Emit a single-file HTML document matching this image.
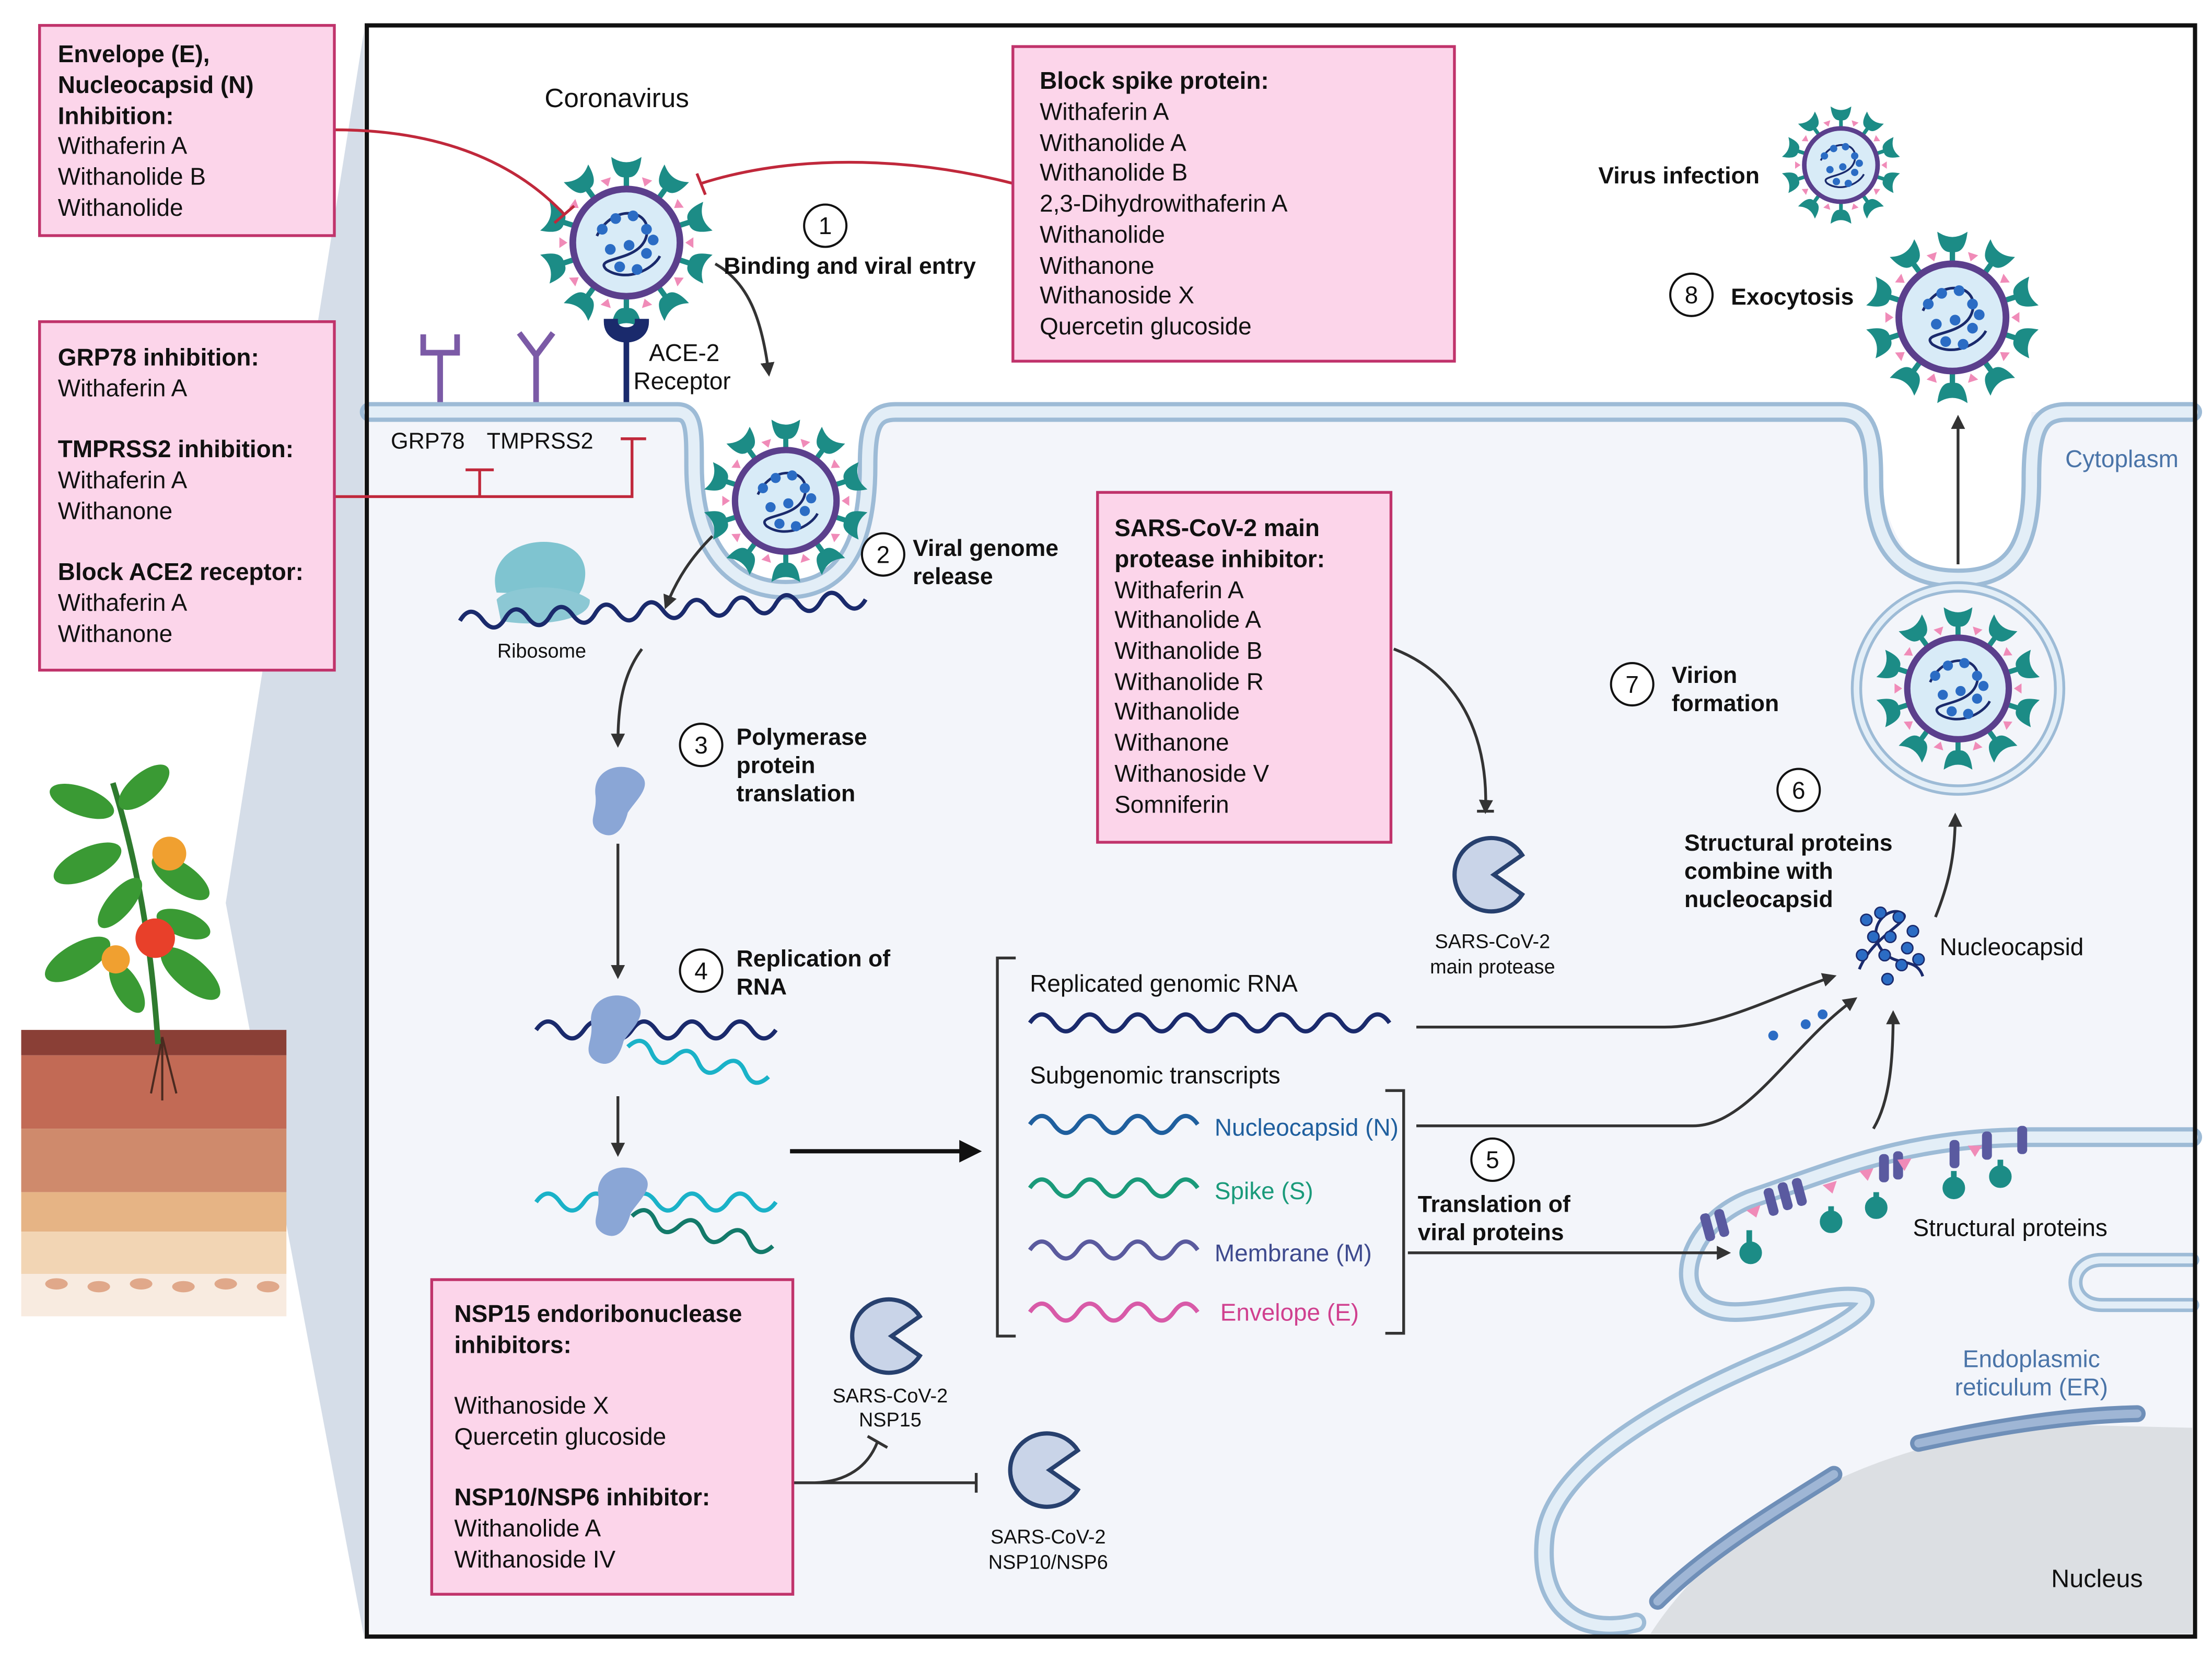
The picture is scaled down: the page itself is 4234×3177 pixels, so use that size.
<!DOCTYPE html>
<html><head><meta charset="utf-8"><style>
html,body{margin:0;padding:0;background:#fff}
svg{display:block}
text{font-family:"Liberation Sans",sans-serif;fill:#111}
.b{font-weight:bold}
.t{font-size:17px}
.s{font-size:14px}
</style></head><body>
<svg width="4234" height="3177" viewBox="0 0 1568 1176.6" xmlns="http://www.w3.org/2000/svg">
<defs>
<g id="vir">
  <g stroke="#1c8c86" stroke-width="4" fill="#1c8c86">
    <g id="sp"><line x1="0" y1="-38" x2="0" y2="-52"/><path d="M-10,-62 Q-8,-48 0,-50 Q8,-48 10,-62 Q0,-56 -10,-62Z" stroke-width="2"/></g>
    <use href="#sp" transform="rotate(36)"/><use href="#sp" transform="rotate(72)"/><use href="#sp" transform="rotate(108)"/><use href="#sp" transform="rotate(144)"/><use href="#sp" transform="rotate(180)"/><use href="#sp" transform="rotate(216)"/><use href="#sp" transform="rotate(252)"/><use href="#sp" transform="rotate(288)"/><use href="#sp" transform="rotate(324)"/>
  </g>
  <circle r="40" fill="#d8ebf7" stroke="#5b3f8c" stroke-width="5"/>
  <g fill="#f08bb8"><path d="M0,-44 l-4,-6 h8z" transform="rotate(18)"/><path d="M0,-44 l-4,-6 h8z" transform="rotate(54)"/><path d="M0,-44 l-4,-6 h8z" transform="rotate(90)"/><path d="M0,-44 l-4,-6 h8z" transform="rotate(126)"/><path d="M0,-44 l-4,-6 h8z" transform="rotate(162)"/><path d="M0,-44 l-4,-6 h8z" transform="rotate(198)"/><path d="M0,-44 l-4,-6 h8z" transform="rotate(234)"/><path d="M0,-44 l-4,-6 h8z" transform="rotate(270)"/><path d="M0,-44 l-4,-6 h8z" transform="rotate(306)"/><path d="M0,-44 l-4,-6 h8z" transform="rotate(342)"/></g>
  <path d="M-22,-5 C-10,-30 20,-25 15,-5 C10,15 -25,10 -15,20 C0,30 20,20 25,10" fill="none" stroke="#1a2a6c" stroke-width="2"/>
  <g fill="#2b6cc4"><circle cx="-18" cy="-10" r="4"/><circle cx="-8" cy="-18" r="4"/><circle cx="5" cy="-20" r="4"/><circle cx="15" cy="-10" r="4"/><circle cx="-12" cy="5" r="4"/><circle cx="2" cy="2" r="4"/><circle cx="15" cy="8" r="4"/><circle cx="-5" cy="18" r="4"/><circle cx="8" cy="20" r="4"/><circle cx="20" cy="-2" r="4"/></g>
</g>
<g id="pac"><path d="M22,-14 A26,26 0 1 0 22,14 L2,0 Z" fill="#c9d4e8" stroke="#27406e" stroke-width="3"/></g>
<g id="pol"><path d="M-18,-5 C-20,-25 5,-30 15,-18 C22,-10 10,0 5,8 C2,20 -5,28 -15,22 C-25,15 -16,8 -18,-5Z" fill="#8aa6d6"/></g>
<marker id="ar" markerWidth="10" markerHeight="10" refX="8" refY="5" orient="auto" markerUnits="userSpaceOnUse"><path d="M0,0 L10,5 L0,10Z" fill="#333"/></marker>
</defs>

<polygon points="258,22 258,1160 160,640" fill="#d5dde8"/>
<rect x="260" y="18" width="1296" height="1142" fill="#fff"/>
<path d="M262,292 H492 C492,330 500,418 557,418 C615,418 615,330 615,292 H1325 C1330,330 1335,410 1388,410 C1440,410 1440,330 1440,292 H1554 V1158 H262Z" fill="#f3f5fa"/>
<path d="M1170,1158 C1220,1080 1330,1015 1470,1010 L1554,1012 V1158Z" fill="#dcdfe3"/>
<g fill="none" stroke-linecap="round">
<path d="M262,292 H480 C492,292 492,305 492,330 C492,390 520,418 557,418 C595,418 615,390 615,330 C615,300 620,292 635,292 H1305 C1325,292 1328,310 1328,340 C1328,390 1350,410 1388,410 C1425,410 1440,390 1440,340 C1440,305 1445,292 1465,292 H1554" stroke="#9dbbd6" stroke-width="14"/>
<path d="M262,292 H480 C492,292 492,305 492,330 C492,390 520,418 557,418 C595,418 615,390 615,330 C615,300 620,292 635,292 H1305 C1325,292 1328,310 1328,340 C1328,390 1350,410 1388,410 C1425,410 1440,390 1440,340 C1440,305 1445,292 1465,292 H1554" stroke="#e3eef7" stroke-width="8"/>
<path d="M1554,806 H1440 C1350,806 1300,830 1240,850 C1190,870 1180,930 1230,930 C1260,930 1300,915 1320,920 C1330,925 1300,945 1250,965 C1180,995 1100,1040 1095,1090 C1090,1140 1120,1160 1160,1150" stroke="#9dbbd6" stroke-width="14"/>
<path d="M1554,806 H1440 C1350,806 1300,830 1240,850 C1190,870 1180,930 1230,930 C1260,930 1300,915 1320,920 C1330,925 1300,945 1250,965 C1180,995 1100,1040 1095,1090 C1090,1140 1120,1160 1160,1150" stroke="#e3eef7" stroke-width="8"/>
<path d="M1554,893 H1490 C1465,893 1465,925 1490,925 H1554" stroke="#9dbbd6" stroke-width="10"/>
<path d="M1554,893 H1490 C1465,893 1465,925 1490,925 H1554" stroke="#e3eef7" stroke-width="5"/>
<path d="M1175,1135 C1210,1100 1260,1070 1300,1045" stroke="#6f8fb8" stroke-width="12"/>
<path d="M1175,1135 C1210,1100 1260,1070 1300,1045" stroke="#9fb6d5" stroke-width="6"/>
<path d="M1360,1023 C1420,1010 1470,1003 1515,1002" stroke="#6f8fb8" stroke-width="12"/>
<path d="M1360,1023 C1420,1010 1470,1003 1515,1002" stroke="#9fb6d5" stroke-width="6"/>
<circle cx="1388" cy="488" r="72" stroke="#9dbbd6" stroke-width="8"/>
<circle cx="1388" cy="488" r="72" stroke="#e3eef7" stroke-width="4"/>
</g>
<rect x="260" y="18" width="1296" height="1142" fill="none" stroke="#111" stroke-width="3"/>

<use href="#vir" transform="translate(444,172) scale(0.95)"/>
<use href="#vir" transform="translate(557,355) scale(0.9)" />
<use href="#vir" transform="translate(1305,117) scale(0.65)"/>
<use href="#vir" transform="translate(1384,225) scale(0.95)"/>
<use href="#vir" transform="translate(1388,488) scale(0.9)"/>

<g stroke="#7b5aa6" stroke-width="4" fill="none">
<path d="M312,285 V250 M300,237 V250 H324 V237"/>
<path d="M380,285 V252 M368,236 L380,252 L392,236"/>
</g>
<path d="M444,285 V240" stroke="#1a2a6c" stroke-width="4"/>
<path d="M430,228 C430,245 458,245 458,228 L452,228 C452,236 436,236 436,228Z" fill="#1a2a6c" stroke="#1a2a6c" stroke-width="4"/>

<path d="M352,420 C345,395 370,380 395,385 C418,390 418,410 410,422 Z" fill="#7fc4d0"/>
<path d="M352,425 C360,415 400,412 418,425 C420,440 380,445 355,440 Z" fill="#8cc8d4"/>

<g fill="none" stroke-width="3">
<path d="M326,440 q8,-12 16,0 t16,0 t16,0 t16,0 t16,0 t16,0 t16,0 t16,0 t16,0 t16,0 t16,0 t16,0 t16,0 t16,0 t16,0 t16,0 t16,0 t16,0" stroke="#1a2a6c" transform="rotate(-3 326 440)"/>
<path d="M730,725 q8.5,-12 17,0 t17,0 t17,0 t17,0 t17,0 t17,0 t17,0 t17,0 t17,0 t17,0 t17,0 t17,0 t17,0 t17,0 t17,0" stroke="#1a2a6c"/>
<path d="M730,797 q8.5,-12 17,0 t17,0 t17,0 t17,0 t17,0 t17,0 t17,0" stroke="#1f5f9e"/>
<path d="M730,842 q8.5,-12 17,0 t17,0 t17,0 t17,0 t17,0 t17,0 t17,0" stroke="#1a9a7a"/>
<path d="M730,886 q8.5,-12 17,0 t17,0 t17,0 t17,0 t17,0 t17,0 t17,0" stroke="#5a5a9e"/>
<path d="M730,930 q8.5,-12 17,0 t17,0 t17,0 t17,0 t17,0 t17,0 t17,0" stroke="#d85aa8"/>
<path d="M380,730 q8.5,-12 17,0 t17,0 t17,0 t17,0 t17,0 t17,0 t17,0 t17,0 t17,0 t17,0" stroke="#1a2a6c"/>
<path d="M445,742 q8.5,-12 17,0 t17,0 t17,0 t17,0 t17,0 t17,0" stroke="#1ab2c8" transform="rotate(12 445 742)"/>
<path d="M380,852 q8.5,-12 17,0 t17,0 t17,0 t17,0 t17,0 t17,0 t17,0 t17,0 t17,0 t17,0" stroke="#1ab2c8"/>
<path d="M448,862 q8.5,-12 17,0 t17,0 t17,0 t17,0 t17,0 t17,0" stroke="#137a6a" transform="rotate(12 448 862)"/>
</g>
<use href="#pol" transform="translate(440,568)"/>
<use href="#pol" transform="translate(437,730)"/>
<use href="#pol" transform="translate(442,852)"/>

<use href="#pac" transform="translate(1057,620)"/>
<use href="#pac" transform="translate(630,947)"/>
<use href="#pac" transform="translate(742,1042)"/>

<g transform="translate(1338,672)">
<path d="M-20,15 C-10,-10 20,-20 10,-25 C0,-30 -15,-15 -5,0 C5,15 20,5 25,20" fill="none" stroke="#1a2a6c" stroke-width="2"/>
<g fill="#2b6cc4" stroke="#1a2a6c" stroke-width="1"><circle cx="-15" cy="-20" r="4"/><circle cx="-5" cy="-25" r="4"/><circle cx="8" cy="-22" r="4"/><circle cx="18" cy="-12" r="4"/><circle cx="-10" cy="-8" r="4"/><circle cx="2" cy="-8" r="4"/><circle cx="14" cy="0" r="4"/><circle cx="-2" cy="5" r="4"/><circle cx="22" cy="8" r="4"/><circle cx="10" cy="12" r="4"/><circle cx="0" cy="22" r="4"/><circle cx="-18" cy="5" r="4"/></g>
</g>
<g fill="#2b6cc4"><circle cx="1257" cy="734" r="3.5"/><circle cx="1280" cy="726" r="3.5"/><circle cx="1292" cy="719" r="3.5"/></g>

<g>
<g fill="#5a5aa0"><rect x="1207" y="860" width="7" height="20" rx="3" transform="rotate(-15 1210 870)"/><rect x="1217" y="857" width="7" height="20" rx="3" transform="rotate(-15 1220 867)"/><rect x="1252" y="842" width="7" height="20" rx="3" transform="rotate(-15 1255 852)"/><rect x="1262" y="838" width="7" height="20" rx="3" transform="rotate(-15 1265 848)"/><rect x="1272" y="835" width="7" height="20" rx="3" transform="rotate(-15 1275 845)"/><rect x="1332" y="818" width="7" height="20" rx="3"/><rect x="1342" y="816" width="7" height="20" rx="3"/><rect x="1382" y="808" width="7" height="20" rx="3"/><rect x="1405" y="802" width="7" height="20" rx="3"/><rect x="1430" y="798" width="7" height="20" rx="3"/></g>
<g fill="#f08bb8"><path d="M1238,858 l10,-4 l-3,9z"/><path d="M1292,840 l10,-3 l-3,9z"/><path d="M1318,830 l10,-2 l-4,9z"/><path d="M1345,822 l10,-1 l-5,9z"/><path d="M1395,812 l10,0 l-5,8z"/></g>
<g stroke="#1c8c86" stroke-width="4" fill="#1c8c86"><path d="M1240,872 V886"/><circle cx="1241" cy="888" r="6"/><path d="M1298,855 V866"/><circle cx="1298" cy="866" r="6"/><path d="M1330,845 V855"/><circle cx="1330" cy="856" r="6"/><path d="M1385,830 V840"/><circle cx="1385" cy="842" r="6"/><path d="M1418,822 V832"/><circle cx="1418" cy="834" r="6"/></g>
</g>

<path d="M720,679 H707 V947 H720" fill="none" stroke="#333" stroke-width="2"/>
<path d="M982,773 H995 V945 H982" fill="none" stroke="#333" stroke-width="2"/>

<g fill="none" stroke="#333" stroke-width="2" marker-end="url(#ar)">
<path d="M507,187 C530,200 540,225 545,265"/>
<path d="M505,380 C490,395 480,410 472,430"/>
<path d="M455,460 C440,480 438,505 438,528"/>
<path d="M438,598 V692"/>
<path d="M438,777 V818"/>
<path d="M1004,728 H1180 C1220,728 1260,705 1300,692"/>
<path d="M1004,798 H1200 C1240,798 1270,740 1315,708"/>
<path d="M998,888 H1225"/>
<path d="M1328,800 C1340,780 1342,750 1342,718"/>
<path d="M1372,650 C1380,630 1386,610 1386,578"/>
<path d="M1388,400 V296"/>
<path d="M988,460 C1040,480 1055,530 1053,575" />
</g>
<path d="M560,816 H690" stroke="#111" stroke-width="3"/>
<path d="M680,808 L696,816 L680,824Z" fill="#111"/>
<g fill="none" stroke="#333" stroke-width="2">
<path d="M562,1051 H692 M692,1044 V1058"/>
<path d="M578,1051 C600,1050 615,1040 622,1022 M615,1018 L629,1026"/>
<path d="M1047,575 H1059"/>
</g>
<g fill="none" stroke="#c0283b" stroke-width="2">
<path d="M237,92 C320,92 370,120 400,152 M393,158 L407,146"/>
<path d="M718,130 C640,110 560,110 497,130 M494,123 L500,138"/>
<path d="M237,352 H448 V311 M440,311 H458 M340,352 V333 M330,333 H350"/>
</g>

<g fill="#fff" stroke="#111" stroke-width="1.5">
<circle cx="585" cy="160" r="15"/><circle cx="626" cy="393" r="15"/><circle cx="497" cy="528" r="15"/><circle cx="497" cy="688" r="15"/><circle cx="1058" cy="822" r="15"/><circle cx="1275" cy="560" r="15"/><circle cx="1157" cy="485" r="15"/><circle cx="1199" cy="209" r="15"/>
</g>
<g class="t" text-anchor="middle"><text x="585" y="166">1</text><text x="626" y="399">2</text><text x="497" y="534">3</text><text x="497" y="694">4</text><text x="1058" y="828">5</text><text x="1275" y="566">6</text><text x="1157" y="491">7</text><text x="1199" y="215">8</text></g>

<g fill="#fcd5ea" stroke="#c0336b" stroke-width="2">
<rect x="28" y="18" width="209" height="149"/>
<rect x="28" y="228" width="209" height="247"/>
<rect x="718" y="33" width="313" height="223"/>
<rect x="778" y="349" width="208" height="248"/>
<rect x="306" y="907" width="256" height="223"/>
</g>
<g class="t">
<text x="41" y="44" class="b">Envelope (E),</text><text x="41" y="66" class="b">Nucleocapsid (N)</text><text x="41" y="88" class="b">Inhibition:</text><text x="41" y="109">Withaferin A</text><text x="41" y="131">Withanolide B</text><text x="41" y="153">Withanolide</text>
<text x="41" y="259" class="b">GRP78 inhibition:</text><text x="41" y="281">Withaferin A</text>
<text x="41" y="324" class="b">TMPRSS2 inhibition:</text><text x="41" y="346">Withaferin A</text><text x="41" y="368">Withanone</text>
<text x="41" y="411" class="b">Block ACE2 receptor:</text><text x="41" y="433">Withaferin A</text><text x="41" y="455">Withanone</text>
<text x="737" y="63" class="b">Block spike protein:</text><text x="737" y="85">Withaferin A</text><text x="737" y="107">Withanolide A</text><text x="737" y="128">Withanolide B</text><text x="737" y="150">2,3-Dihydrowithaferin A</text><text x="737" y="172">Withanolide</text><text x="737" y="194">Withanone</text><text x="737" y="215">Withanoside X</text><text x="737" y="237">Quercetin glucoside</text>
<text x="790" y="380" class="b">SARS-CoV-2 main</text><text x="790" y="402" class="b">protease inhibitor:</text><text x="790" y="424">Withaferin A</text><text x="790" y="445">Withanolide A</text><text x="790" y="467">Withanolide B</text><text x="790" y="489">Withanolide R</text><text x="790" y="510">Withanolide</text><text x="790" y="532">Withanone</text><text x="790" y="554">Withanoside V</text><text x="790" y="576">Somniferin</text>
<text x="322" y="937" class="b">NSP15 endoribonuclease</text><text x="322" y="959" class="b">inhibitors:</text><text x="322" y="1002">Withanoside X</text><text x="322" y="1024">Quercetin glucoside</text><text x="322" y="1067" class="b">NSP10/NSP6 inhibitor:</text><text x="322" y="1089">Withanolide A</text><text x="322" y="1111">Withanoside IV</text>
</g>

<g class="t">
<text x="386" y="76" style="font-size:19px">Coronavirus</text>
<text x="513" y="194" class="b" style="font-size:16.5px">Binding and viral entry</text>
<text x="460" y="256">ACE-2</text><text x="449" y="276">Receptor</text>
<text x="277" y="318" style="font-size:16px">GRP78</text><text x="345" y="318" style="font-size:16px">TMPRSS2</text>
<text x="647" y="394" class="b" style="font-size:16.5px">Viral genome</text><text x="647" y="414" class="b" style="font-size:16.5px">release</text>
<text x="522" y="528" class="b" style="font-size:16.5px">Polymerase</text><text x="522" y="548" class="b" style="font-size:16.5px">protein</text><text x="522" y="568" class="b" style="font-size:16.5px">translation</text>
<text x="522" y="685" class="b" style="font-size:16.5px">Replication of</text><text x="522" y="705" class="b" style="font-size:16.5px">RNA</text>
<text x="730" y="703">Replicated genomic RNA</text>
<text x="730" y="768">Subgenomic transcripts</text>
<text x="861" y="805" style="fill:#1f5f9e">Nucleocapsid (N)</text>
<text x="861" y="850" style="fill:#1a9a7a">Spike (S)</text>
<text x="861" y="894" style="fill:#3e4a8e">Membrane (M)</text>
<text x="865" y="936" style="fill:#d0408f">Envelope (E)</text>
<text x="1005" y="859" class="b" style="font-size:16.5px">Translation of</text><text x="1005" y="879" class="b" style="font-size:16.5px">viral proteins</text>
<text x="1194" y="603" class="b" style="font-size:16.5px">Structural proteins</text><text x="1194" y="623" class="b" style="font-size:16.5px">combine with</text><text x="1194" y="643" class="b" style="font-size:16.5px">nucleocapsid</text>
<text x="1185" y="484" class="b" style="font-size:16.5px">Virion</text><text x="1185" y="504" class="b" style="font-size:16.5px">formation</text>
<text x="1227" y="216" class="b" style="font-size:16.5px">Exocytosis</text>
<text x="1133" y="130" class="b" style="font-size:16.5px">Virus infection</text>
<text x="1464" y="331" style="fill:#4a74a8">Cytoplasm</text>
<text x="1375" y="677">Nucleocapsid</text>
<text x="1356" y="876">Structural proteins</text>
<text x="1440" y="969" text-anchor="middle" style="fill:#4a74a8">Endoplasmic</text><text x="1440" y="989" text-anchor="middle" style="fill:#4a74a8">reticulum (ER)</text>
<text x="1454" y="1125" style="font-size:18px">Nucleus</text>
</g>
<g class="s" text-anchor="middle">
<text x="384" y="466">Ribosome</text>
<text x="1058" y="672">SARS-CoV-2</text><text x="1058" y="690">main protease</text>
<text x="631" y="994">SARS-CoV-2</text><text x="631" y="1011">NSP15</text>
<text x="743" y="1094">SARS-CoV-2</text><text x="743" y="1112">NSP10/NSP6</text>
</g>

<rect x="15" y="730" width="188" height="18" fill="#8a3f36"/>
<rect x="15" y="748" width="188" height="52" fill="#c26a55"/>
<rect x="15" y="800" width="188" height="45" fill="#cf8a6c"/>
<rect x="15" y="845" width="188" height="28" fill="#e6b485"/>
<rect x="15" y="873" width="188" height="30" fill="#f2d5b4"/>
<rect x="15" y="903" width="188" height="30" fill="#f8ebe0"/>
<g fill="#e0a88a"><ellipse cx="40" cy="910" rx="8" ry="4"/><ellipse cx="70" cy="912" rx="8" ry="4"/><ellipse cx="100" cy="910" rx="8" ry="4"/><ellipse cx="130" cy="912" rx="8" ry="4"/><ellipse cx="160" cy="910" rx="8" ry="4"/><ellipse cx="190" cy="912" rx="8" ry="4"/></g>
<path d="M115,735 l-8,40 M115,735 l0,45 M115,735 l10,40" stroke="#4a2a20" stroke-width="1.5" fill="none"/>
<path d="M112,740 C108,680 100,620 80,555" stroke="#2e7a2e" stroke-width="4" fill="none"/>
<g fill="#3a9a34">
<ellipse cx="58" cy="568" rx="24" ry="10" transform="rotate(20 58 568)"/>
<ellipse cx="102" cy="558" rx="22" ry="10" transform="rotate(-40 102 558)"/>
<ellipse cx="62" cy="612" rx="26" ry="11" transform="rotate(-25 62 612)"/>
<ellipse cx="128" cy="622" rx="24" ry="10" transform="rotate(35 128 622)"/>
<ellipse cx="55" cy="680" rx="26" ry="11" transform="rotate(-30 55 680)"/>
<ellipse cx="135" cy="690" rx="26" ry="11" transform="rotate(40 135 690)"/>
<ellipse cx="90" cy="700" rx="20" ry="9" transform="rotate(60 90 700)"/>
<ellipse cx="85" cy="640" rx="22" ry="9" transform="rotate(-50 85 640)"/>
<ellipse cx="130" cy="655" rx="20" ry="9" transform="rotate(20 130 655)"/>
</g>
<circle cx="110" cy="665" r="14" fill="#e8402a"/><circle cx="82" cy="680" r="10" fill="#f0a030"/><circle cx="120" cy="605" r="12" fill="#f0a030"/>
</svg>
</body></html>
